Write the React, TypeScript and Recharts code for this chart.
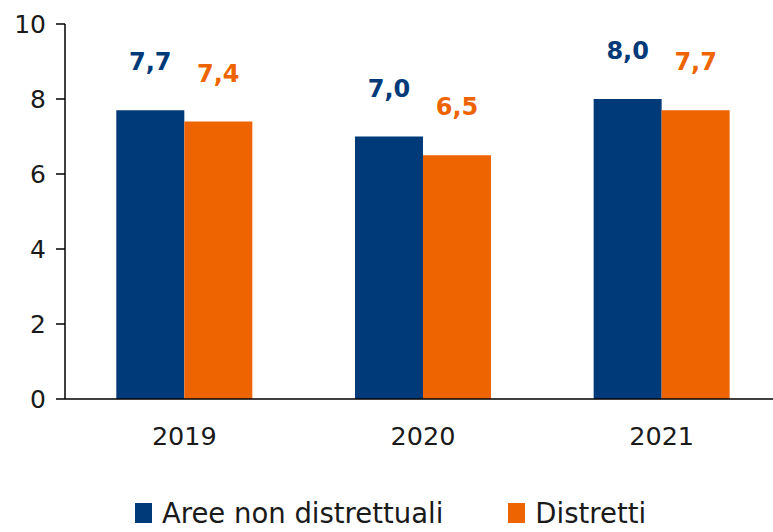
import { Bar, BarChart, LabelList, Legend, XAxis, YAxis } from "recharts";

const YEARS = ["2019", "2020", "2021"];
const AREE_NON_DISTRETTUALI = [7.7, 7.0, 8.0];
const DISTRETTI = [7.4, 6.5, 7.7];
const Y_TICKS = [0, 2, 4, 6, 8, 10];

const BLUE = "#003a78";
const ORANGE = "#ee6400";
const FONT = "'DejaVu Sans', sans-serif";

const data = YEARS.map((year, i) => ({
  year,
  aree: AREE_NON_DISTRETTUALI[i],
  distretti: DISTRETTI[i],
}));

const fmt = (v: unknown) => Number(v).toFixed(1).replace(".", ",");

function LegendContent() {
  const items = [
    { label: "Aree non distrettuali", color: BLUE },
    { label: "Distretti", color: ORANGE },
  ];
  return (
    <div
      style={{
        display: "flex",
        justifyContent: "center",
        gap: 65,
        paddingTop: 40,
        fontFamily: FONT,
        fontSize: 27.5,
        color: "#1a1a1a",
        lineHeight: "28px",
      }}
    >
      {items.map((it) => (
        <span key={it.label} style={{ display: "flex", alignItems: "center" }}>
          <span
            style={{
              display: "inline-block",
              width: 17,
              height: 20,
              background: it.color,
              marginRight: 10,
            }}
          />
          {it.label}
        </span>
      ))}
    </div>
  );
}

export default function App() {
  return (
    <div
      style={{
        position: "absolute",
        left: 0,
        top: 0,
        width: 773,
        height: 532,
        overflow: "hidden",
        background: "#fff",
      }}
    >
      <BarChart
        width={781}
        height={532}
        data={data}
        margin={{ top: 24, right: 0, left: 0, bottom: 0 }}
        barCategoryGap="21.5%"
        barGap={0}
      >
        <XAxis
          dataKey="year"
          height={60}
          tickLine={false}
          axisLine={{ stroke: "#000", strokeWidth: 1.5 }}
          tick={{ fill: "#1a1a1a", fontSize: 25.5, fontFamily: FONT }}
          tickMargin={22}
        />
        <YAxis
          width={65}
          domain={[0, 10]}
          ticks={Y_TICKS}
          axisLine={{ stroke: "#000", strokeWidth: 1.5 }}
          tickLine={{ stroke: "#000", strokeWidth: 1.5 }}
          tickSize={9}
          tick={{ fill: "#1a1a1a", fontSize: 25, fontFamily: FONT }}
          tickMargin={10}
          interval={0}
        />
        <Legend verticalAlign="bottom" height={73} content={<LegendContent />} />
        <Bar dataKey="aree" name="Aree non distrettuali" fill={BLUE} isAnimationActive={false}>
          <LabelList
            dataKey="aree"
            position="top"
            offset={40}
            formatter={fmt}
            style={{ fill: BLUE, fontSize: 24, fontWeight: 700, fontFamily: FONT }}
          />
        </Bar>
        <Bar dataKey="distretti" name="Distretti" fill={ORANGE} isAnimationActive={false}>
          <LabelList
            dataKey="distretti"
            position="top"
            offset={40}
            formatter={fmt}
            style={{ fill: ORANGE, fontSize: 24, fontWeight: 700, fontFamily: FONT }}
          />
        </Bar>
      </BarChart>
    </div>
  );
}
